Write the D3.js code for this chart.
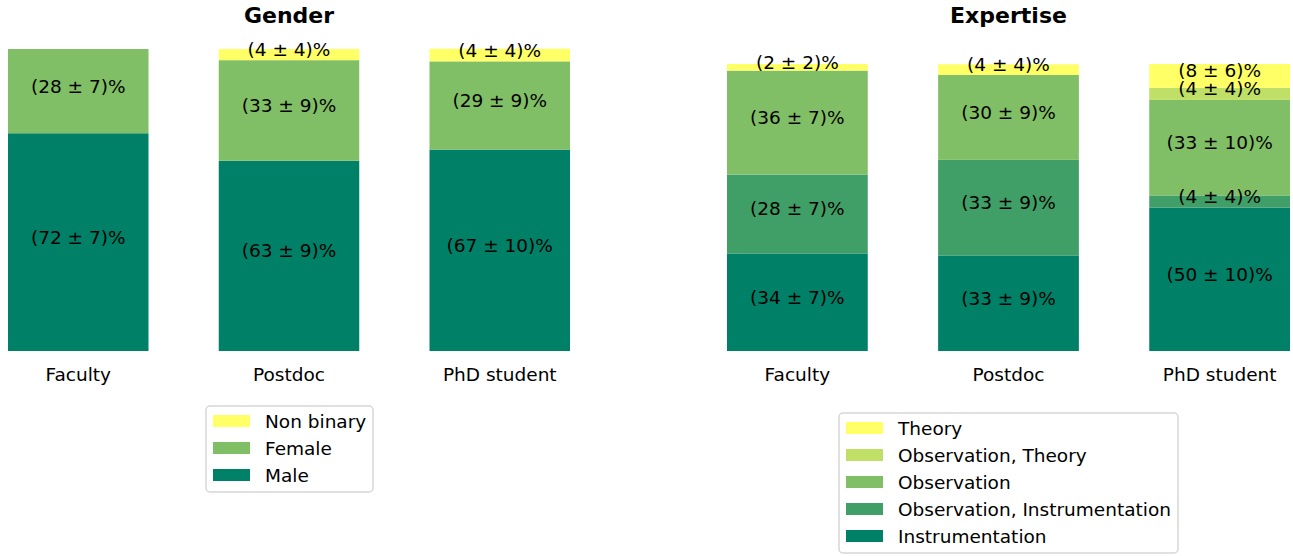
<!DOCTYPE html>
<html>
<head>
<meta charset="utf-8">
<script src="https://cdn.jsdelivr.net/npm/d3@7"></script>
<style>
  body { margin: 0; background: #fff; }
  text { font-family: "DejaVu Sans", sans-serif; fill: #000; }
</style>
</head>
<body>
<div id="chart"></div>
<script>
// stacked percentage bars, two panels

const positions = ["Faculty", "Postdoc", "PhD student"];

// gender, bottom to top
const genderKeys = ["Male", "Female", "Non binary"];
const genderValues = [
  [72.1, 27.9, 0],
  [63.0, 33.3, 3.7],
  [66.7, 29.2, 4.2]
];
const genderErrors = [
  [7, 7, 0],
  [9, 9, 4],
  [10, 9, 4]
];

// expertise, bottom to top
const expertiseKeys = ["Instrumentation", "Observation, Instrumentation", "Observation", "Observation, Theory", "Theory"];
const expertiseValues = [
  [34.0, 27.5, 36.2, 0, 2.3],
  [33.3, 33.3, 29.6, 0, 3.7],
  [50.0, 4.2, 33.3, 4.2, 8.3]
];
const expertiseErrors = [
  [7, 7, 7, 0, 2],
  [9, 9, 9, 0, 4],
  [10, 4, 10, 4, 6]
];

const width = 1293, height = 556;

const svg = d3.select("#chart").append("svg")
  .attr("width", width)
  .attr("height", height)
  .attr("viewBox", [0, 0, width, height]);

const summer = t => d3.rgb(255 * t, 127.5 + 127.5 * t, 102).formatHex();

function drawPanel(opts) {
  const { keys, values, errors, colorT, x0, x1, top, bottom, title, legend } = opts;
  const g = svg.append("g");

  const x = d3.scaleBand().domain(positions).range([x0, x1]).paddingInner(0.3333).paddingOuter(0);
  const y = d3.scaleLinear().domain([0, 100]).range([bottom, top]);
  const color = d3.scaleOrdinal().domain(keys).range(colorT.map(summer));

  const rows = positions.map((p, i) => {
    const r = { pos: p };
    keys.forEach((k, j) => { r[k] = values[i][j]; r[k + "_err"] = errors[i][j]; });
    return r;
  });
  const series = d3.stack().keys(keys)(rows);

  const layer = g.selectAll("g.layer").data(series).join("g")
    .attr("class", "layer")
    .attr("fill", d => color(d.key));

  layer.selectAll("rect").data(d => d.filter(s => s[1] - s[0] > 0)).join("rect")
    .attr("x", d => x(d.data.pos))
    .attr("width", x.bandwidth())
    .attr("y", d => y(d[1]))
    .attr("height", d => y(d[0]) - y(d[1]));

  series.forEach(s => {
    g.selectAll(null).data(s.filter(d => d[1] - d[0] > 0)).join("text")
      .attr("x", d => x(d.data.pos) + x.bandwidth() / 2)
      .attr("y", d => (y(d[0]) + y(d[1])) / 2 - 5)
      .attr("text-anchor", "middle")
      .attr("dominant-baseline", "central")
      .style("font-size", "18.5px")
      .text(d => `(${Math.round(d[1] - d[0])} ± ${d.data[s.key + "_err"]})%`);
  });

  // category labels, no axis line
  const axis = g.append("g")
    .attr("transform", `translate(0,${bottom})`)
    .call(d3.axisBottom(x).tickSize(0).tickPadding(17));
  axis.select(".domain").remove();
  axis.selectAll("text").style("font-size", "18.5px").style("font-family", "DejaVu Sans, sans-serif");

  g.append("text")
    .attr("x", (x0 + x1) / 2)
    .attr("y", 15)
    .attr("text-anchor", "middle")
    .attr("dominant-baseline", "central")
    .style("font-size", "22px")
    .style("font-weight", "bold")
    .text(title);

  // legend, top key first
  const lg = g.append("g").attr("transform", `translate(${legend.x},${legend.y})`);
  const items = keys.slice().reverse();
  lg.append("rect")
    .attr("width", legend.w)
    .attr("height", items.length * 27 + 5)
    .attr("rx", 4)
    .attr("fill", "#fff")
    .attr("stroke", "#d6d6d6")
    .attr("stroke-width", 1.5);
  const it = lg.selectAll("g.item").data(items).join("g")
    .attr("class", "item")
    .attr("transform", (d, i) => `translate(7,${15 + i * 27})`);
  it.append("rect")
    .attr("y", -6).attr("width", 37).attr("height", 12)
    .attr("fill", d => color(d));
  it.append("text")
    .attr("x", 52)
    .attr("dominant-baseline", "central")
    .style("font-size", "18.5px")
    .text(d => d);
}

drawPanel({
  keys: genderKeys, values: genderValues, errors: genderErrors,
  colorT: [0, 0.5, 1],
  x0: 8, x1: 570, top: 49, bottom: 351,
  title: "Gender",
  legend: { x: 206, y: 406, w: 167 }
});

drawPanel({
  keys: expertiseKeys, values: expertiseValues, errors: expertiseErrors,
  colorT: [0, 0.25, 0.5, 0.75, 1],
  x0: 727, x1: 1290, top: 64, bottom: 351,
  title: "Expertise",
  legend: { x: 839, y: 413, w: 339 }
});
</script>
</body>
</html>
